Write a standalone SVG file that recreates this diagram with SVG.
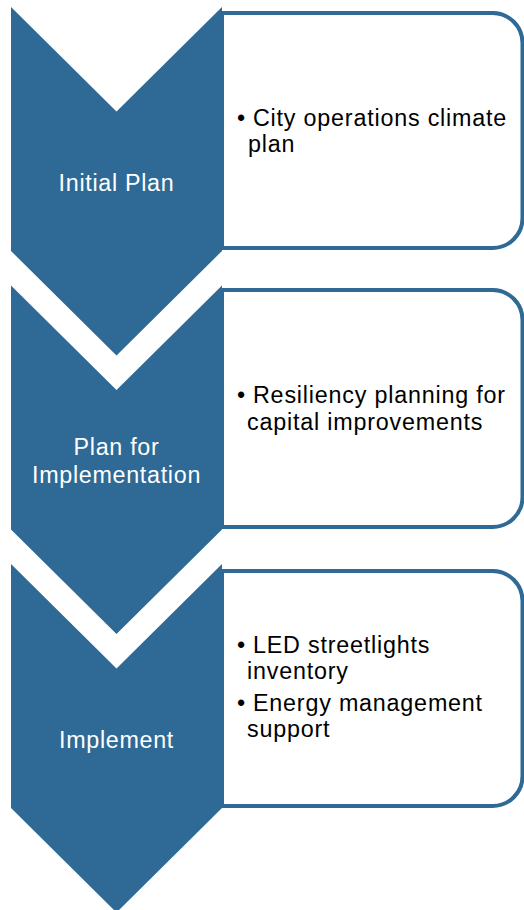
<svg xmlns="http://www.w3.org/2000/svg" width="524" height="910" viewBox="0 0 524 910">
<style>
.box{fill:#ffffff;stroke:#2e6a95;stroke-width:4}
.chev{fill:#2e6a95}
.lbl{font-family:"Liberation Sans",Arial,sans-serif;font-size:23.3px;letter-spacing:0.7px;fill:#ffffff;text-anchor:middle}
.txt{font-family:"Liberation Sans",Arial,sans-serif;font-size:23.3px;letter-spacing:0.8px;fill:#000000}
</style>
<rect width="524" height="910" fill="#ffffff"/>
<g id="connectors"></g>
<g id="step1">
<path class="box" d="M222,13 H492.5 A30,30 0 0 1 522.5,43 V218 A30,30 0 0 1 492.5,248 H222 Z"/>
<polygon class="chev" points="11,7 116.5,111.5 222,7 222,251 116.5,355.5 11,251"/>
<text class="lbl" x="116.5" y="190.5">Initial Plan</text>
<text class="txt"><tspan x="237" y="126">•</tspan><tspan x="253" y="126">City operations climate</tspan><tspan x="248" y="152">plan</tspan></text>
</g>
<g id="step2">
<path class="box" d="M222,290 H492.5 A30,30 0 0 1 522.5,320 V497 A30,30 0 0 1 492.5,527 H222 Z"/>
<polygon class="chev" points="11,285.5 116.5,390 222,285.5 222,529.5 116.5,634 11,529.5"/>
<text class="lbl"><tspan x="116.5" y="455">Plan for</tspan><tspan x="116.5" y="483">Implementation</tspan></text>
<text class="txt"><tspan x="237" y="403">•</tspan><tspan x="253" y="403">Resiliency planning for</tspan><tspan x="247" y="430">capital improvements</tspan></text>
</g>
<g id="step3">
<path class="box" d="M222,571 H492.5 A30,30 0 0 1 522.5,601 V776 A30,30 0 0 1 492.5,806 H222 Z"/>
<polygon class="chev" points="11,564 116.5,668.5 222,564 222,808 116.5,912.5 11,808"/>
<text class="lbl" x="116.5" y="748">Implement</text>
<text class="txt"><tspan x="237" y="653">•</tspan><tspan x="253" y="653">LED streetlights</tspan><tspan x="247" y="679">inventory</tspan><tspan x="237" y="711">•</tspan><tspan x="253" y="711">Energy management</tspan><tspan x="247" y="737">support</tspan></text>
</g>
</svg>
